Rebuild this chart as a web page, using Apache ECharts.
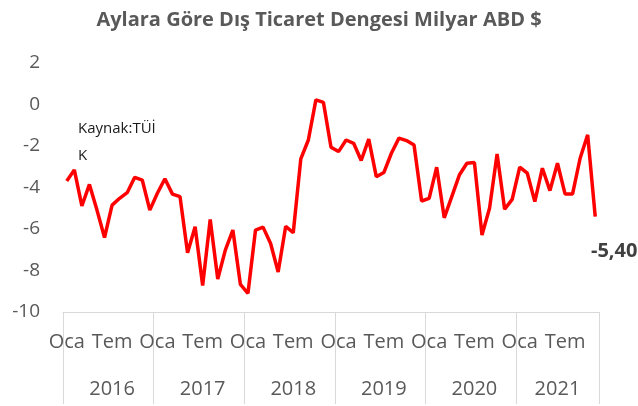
<!DOCTYPE html>
<html>
<head>
<meta charset="utf-8">
<script src="https://cdn.jsdelivr.net/npm/echarts@6/dist/echarts.min.js"></script>
<style>
  html, body { margin: 0; padding: 0; background: #fff; }
  #chart { width: 638px; height: 406px; }
</style>
</head>
<body>
<div id="chart"></div>
<script>
// yillar ve aylar
var years = ['2016', '2017', '2018', '2019', '2020', '2021'];
var monthNames = ['Oca', 'Şub', 'Mar', 'Nis', 'May', 'Haz', 'Tem', 'Ağu', 'Eyl', 'Eki', 'Kas', 'Ara'];
var monthsPerYear = [12, 12, 12, 12, 12, 11];

// dis ticaret dengesi, milyar ABD $
var balance2016 = [-3.69, -3.15, -4.89, -3.85, -5.09, -6.41, -4.85, -4.52, -4.25, -3.51, -3.64, -5.09];
var balance2017 = [-4.28, -3.58, -4.32, -4.44, -7.14, -5.89, -8.72, -5.54, -8.41, -7.02, -6.05, -8.67];
var balance2018 = [-9.10, -6.05, -5.91, -6.70, -8.07, -5.87, -6.18, -2.62, -1.71, 0.22, 0.10, -2.06];
var balance2019 = [-2.27, -1.71, -1.87, -2.70, -1.67, -3.48, -3.28, -2.35, -1.62, -1.74, -1.95, -4.65];
var balance2020 = [-4.52, -3.02, -5.46, -4.44, -3.40, -2.83, -2.80, -6.29, -5.00, -2.38, -5.05, -4.57];
var balance2021 = [-3.02, -3.31, -4.68, -3.07, -4.15, -2.83, -4.31, -4.31, -2.59, -1.46, -5.40];

var values = [].concat(balance2016, balance2017, balance2018, balance2019, balance2020, balance2021);

// kategori listesi
var categories = [];
var yearOfCat = [];
var yearLabelIdx = {};
years.forEach(function (y, i) {
  var start = categories.length;
  for (var m = 0; m < monthsPerYear[i]; m++) {
    categories.push(monthNames[m] + ' ' + y);
    yearOfCat.push(y);
  }
  // yil etiketi grubun ortasina
  yearLabelIdx[start + Math.floor(monthsPerYear[i] / 2)] = y;
});

var lastIdx = values.length - 1;
var seriesData = values.map(function (v, i) {
  if (i === lastIdx) {
    return {
      value: v,
      label: {
        show: true,
        position: 'bottom',
        offset: [19, 20],
        formatter: function (p) { return p.value.toFixed(2).replace('.', ','); },
        fontFamily: 'Open Sans',
        fontWeight: 'bold',
        fontSize: 20,
        color: '#404040'
      }
    };
  }
  return v;
});

var chart = echarts.init(document.getElementById('chart'));
var option = {
  backgroundColor: '#fff',
  animation: false,
  title: {
    text: 'Aylara Göre Dış Ticaret Dengesi Milyar ABD $',
    left: 'center',
    top: 5,
    textStyle: {
      fontFamily: 'Open Sans',
      fontWeight: 'bold',
      fontSize: 20,
      color: '#595959'
    }
  },
  grid: {
    left: 63,
    right: 39,
    top: 63,
    bottom: 94,
    containLabel: false
  },
  xAxis: [{
    type: 'category',
    data: categories,
    boundaryGap: true,
    axisLine: { show: true, onZero: false, lineStyle: { color: '#d9d9d9', width: 1 } },
    axisTick: {
      show: true,
      length: 92,
      interval: function (index) { return index % 12 === 0; },
      lineStyle: { color: '#d9d9d9', width: 1 }
    },
    axisLabel: {
      interval: 0,
      margin: 20,
      fontFamily: 'Open Sans',
      fontSize: 20,
      color: '#595959',
      formatter: function (val, idx) {
        if (idx % 12 === 0) return 'Oca';
        if (idx % 12 === 6) return 'Tem';
        return '';
      }
    },
    splitLine: { show: false }
  }, {
    type: 'category',
    data: yearOfCat,
    position: 'bottom',
    offset: 40,
    boundaryGap: true,
    axisLine: { show: false, onZero: false },
    axisTick: { show: false },
    axisLabel: {
      interval: 0,
      margin: 27,
      fontFamily: 'Open Sans',
      fontSize: 20,
      color: '#595959',
      formatter: function (val, idx) {
        return yearLabelIdx[idx] || '';
      }
    },
    splitLine: { show: false }
  }],
  yAxis: {
    type: 'value',
    min: -10,
    max: 2,
    interval: 2,
    axisLine: { show: false },
    axisTick: { show: false },
    splitLine: { show: false },
    axisLabel: {
      margin: 23,
      fontFamily: 'Open Sans',
      fontSize: 19,
      color: '#595959'
    }
  },
  graphic: [{
    type: 'text',
    left: 78,
    top: 115,
    style: {
      text: 'Kaynak:TÜİ\nK',
      font: '15px "Open Sans"',
      lineHeight: 27,
      fill: '#1a1a1a'
    }
  }],
  series: [{
    name: 'Dış Ticaret Dengesi',
    type: 'line',
    xAxisIndex: 0,
    data: seriesData,
    symbol: 'circle',
    symbolSize: 0,
    showSymbol: true,
    lineStyle: { color: '#ff0000', width: 3.5 },
    itemStyle: { color: '#ff0000' }
  }]
};
chart.setOption(option);
</script>
</body>
</html>
